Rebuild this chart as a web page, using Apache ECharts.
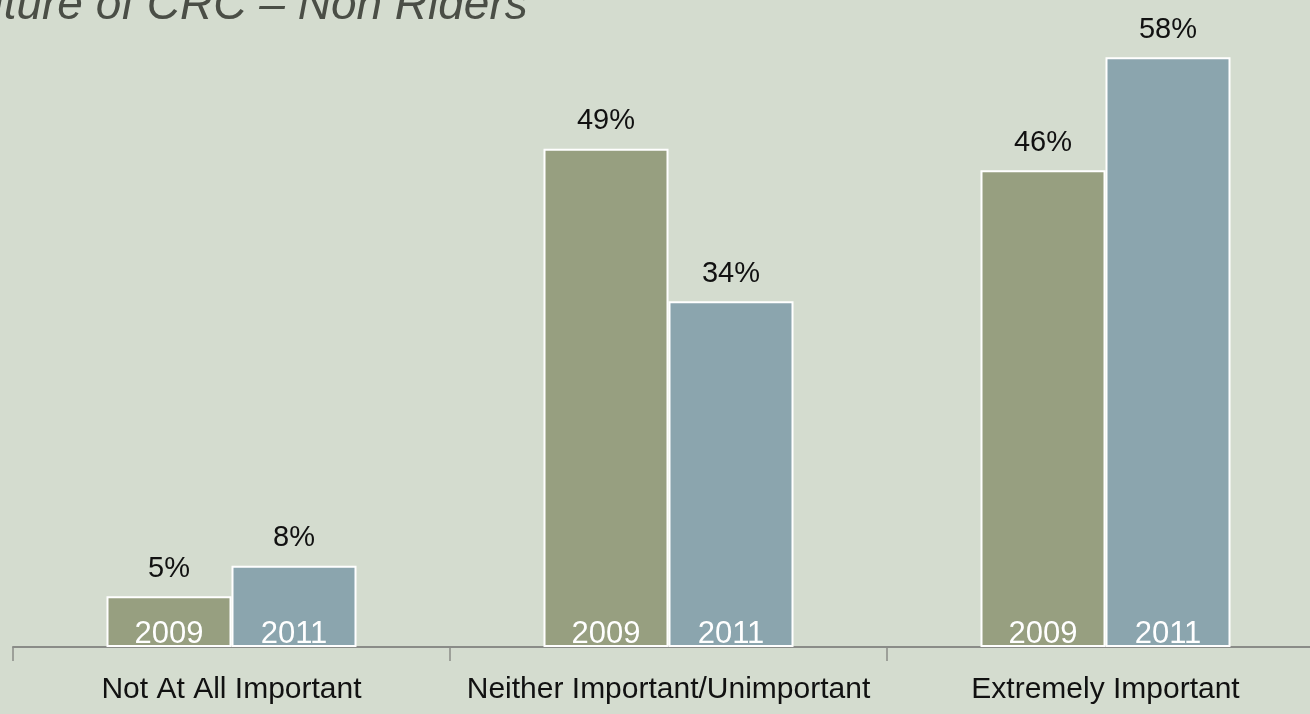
<!DOCTYPE html>
<html>
<head>
<meta charset="utf-8">
<script src="https://cdn.jsdelivr.net/npm/echarts@6/dist/echarts.min.js"></script>
<style>
html,body{margin:0;padding:0;background:#D4DCCF;overflow:hidden;}
#c{width:1324px;height:714px;}
</style>
</head>
<body>
<div id="c"></div>
<script>
const categories = ['Not At All Important', 'Neither Important/Unimportant', 'Extremely Important'];
const seriesNames = ['2009', '2011'];
// bar heights as drawn in the picture
const values2009 = [5, 49, 46.9];
const values2011 = [8, 34, 58];
// value labels as printed in the picture
const labels2009 = ['5%', '49%', '46%'];
const labels2011 = ['8%', '34%', '58%'];
const titleText = 'Future of CRC \u2013 Non Riders';

const chart = echarts.init(document.getElementById('c'), null, {renderer: 'canvas'});
const font = "'Liberation Sans', Arial, Helvetica, sans-serif";

// bar body with year label at the bottom
function barSeries(name, data, color) {
  return {
    name: name, type: 'bar', stack: 's' + name, data: data,
    barWidth: 125, barGap: '0%',
    itemStyle: {color: color, borderColor: '#ffffff', borderWidth: 2},
    label: {
      show: true, position: 'insideBottom', distance: -3,
      formatter: () => name,
      fontFamily: font, fontSize: 31, color: '#ffffff'
    }
  };
}
// zero-height cap carrying the percentage label on top of the bar
function capSeries(name, data, labels) {
  return {
    name: name + ' value', type: 'bar', stack: 's' + name,
    data: data.map(() => 0),
    barWidth: 125, barGap: '0%',
    itemStyle: {color: 'transparent', borderWidth: 0},
    label: {
      show: true, position: 'top', distance: 13,
      formatter: p => labels[p.dataIndex],
      fontFamily: font, fontSize: 29, color: '#111111'
    }
  };
}

const option = {
  backgroundColor: '#D4DCCF',
  animation: false,
  graphic: [{
    type: 'text', left: -50, top: -17,
    style: {text: titleText, font: "italic 46px 'Liberation Sans', Arial, sans-serif", fill: '#4A4E46'}
  }],
  grid: {left: 13, right: 0, top: 37, bottom: 67, containLabel: false},
  xAxis: {
    type: 'category', data: categories,
    axisLine: {lineStyle: {color: '#8A8C88', width: 2}},
    axisTick: {show: true, length: 14, lineStyle: {color: '#8A8C88', width: 1.5}},
    axisLabel: {interval: 0, fontFamily: font, fontSize: 30, color: '#111111', margin: 28}
  },
  yAxis: {type: 'value', min: 0, max: 60, show: false, splitLine: {show: false}},
  series: [
    barSeries(seriesNames[0], values2009, '#979F80'),
    capSeries(seriesNames[0], values2009, labels2009),
    barSeries(seriesNames[1], values2011, '#8BA5AE'),
    capSeries(seriesNames[1], values2011, labels2011)
  ]
};
chart.setOption(option);
</script>
</body>
</html>
